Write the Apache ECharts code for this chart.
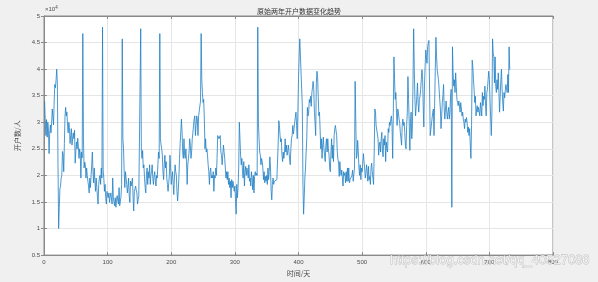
<!DOCTYPE html>
<html><head><meta charset="utf-8">
<script src="https://cdn.jsdelivr.net/npm/echarts@6/dist/echarts.min.js"></script>
<style>html,body{margin:0;padding:0;background:#f0f0f0}#c{width:598px;height:282px}</style>
</head><body><div id="c"></div>
<script>
// chart texts
const titleText = '原始两年开户数据变化趋势';
const xName = '时间/天';
const yName = '开户数/人';
const watermark = 'https://blog.csdn.net/qq_40527086';
// tick labels
const xTicks = [0, 100, 200, 300, 400, 500, 600, 700, 800];
const yTicks = [0.5, 1, 1.5, 2, 2.5, 3, 3.5, 4, 4.5, 5];
// daily account openings, in units of 10^4, day 1 .. 732
const openings = [
3.40,3.00,2.75,3.05,2.72,3.00,2.85,2.41,2.80,2.95,
2.80,3.00,3.25,3.10,2.95,3.40,3.71,3.65,3.80,4.00,
3.74,2.20,1.00,1.40,1.75,1.80,1.95,2.00,2.45,2.40,
2.07,2.60,3.10,3.28,3.12,3.19,2.95,2.80,3.00,2.90,
2.60,2.75,2.88,2.57,2.70,2.80,2.69,2.85,2.23,2.45,
2.63,2.50,2.70,2.55,2.32,2.50,2.40,1.95,2.44,2.33,
4.67,2.70,2.14,2.25,2.20,1.95,2.14,2.00,1.89,1.80,
1.67,1.95,1.77,2.00,2.20,2.44,2.07,1.86,2.14,1.90,
1.70,1.95,1.77,1.60,1.46,1.83,1.95,2.00,1.83,2.14,
1.95,4.79,2.10,1.95,1.70,1.83,1.58,1.46,1.70,1.62,
1.58,1.67,1.49,1.60,1.67,1.64,1.46,1.95,1.58,1.50,
1.43,1.58,1.40,1.55,1.62,1.52,1.46,1.77,1.43,1.40,
1.60,1.83,4.57,2.69,2.50,2.10,1.77,2.07,1.95,1.83,
1.67,1.80,1.95,1.60,1.49,1.89,1.80,1.77,1.95,1.60,
1.33,1.70,1.75,1.80,1.72,1.67,1.46,1.55,1.61,1.58,
1.61,4.76,2.47,2.32,2.47,2.14,2.20,1.95,1.77,1.67,
2.00,2.14,1.83,2.07,1.95,2.20,1.83,2.00,2.07,2.20,
1.95,1.83,1.99,2.07,1.90,1.80,2.00,1.95,2.20,2.44,
2.32,4.67,2.69,2.57,2.50,2.38,2.07,1.92,2.20,2.38,
2.14,2.26,1.95,1.83,1.70,1.85,2.00,2.38,2.14,1.83,
1.95,2.07,1.83,1.64,1.95,2.20,2.07,2.00,1.70,1.52,
1.70,1.95,2.32,2.60,2.82,3.06,2.82,2.44,2.32,2.69,
2.38,2.32,2.50,2.26,1.83,2.20,2.32,2.44,2.69,2.57,
2.32,2.44,2.69,2.80,2.94,3.06,3.12,2.75,2.94,3.12,
3.06,2.75,3.12,3.12,3.15,3.40,4.67,3.80,3.56,3.37,
3.43,3.06,2.50,2.69,2.44,2.50,2.38,2.20,2.07,1.83,
2.07,2.14,1.95,2.00,1.95,2.07,1.70,2.00,1.95,2.14,
2.00,2.32,2.75,2.78,2.69,2.72,2.75,2.44,2.38,2.20,
2.38,2.57,2.60,2.32,2.14,1.95,2.07,1.92,2.07,1.83,
1.95,1.77,1.89,1.58,1.92,1.77,1.89,1.80,1.70,1.80,
1.55,1.27,1.83,1.58,1.77,2.14,3.00,2.69,2.38,2.20,
2.32,2.07,1.95,2.26,1.80,2.07,2.17,2.00,2.14,2.05,
1.95,2.20,1.89,1.95,1.80,2.07,1.95,1.73,2.00,1.67,
1.98,2.07,2.00,2.04,2.00,4.79,3.00,2.69,2.44,2.38,
2.20,2.32,2.25,2.14,1.92,2.07,1.86,1.98,1.89,2.00,
1.83,2.14,1.92,2.07,2.35,2.14,1.70,1.54,1.83,1.95,
1.83,1.89,1.92,1.90,1.86,1.92,1.95,2.57,3.03,2.94,
2.75,2.63,2.69,2.38,2.26,2.44,2.32,2.44,2.69,2.44,
2.57,2.38,2.44,2.57,2.45,2.32,2.20,2.50,2.69,2.75,
2.94,2.78,2.88,3.00,3.00,3.19,2.94,2.69,3.19,3.80,
4.23,4.57,4.60,4.54,4.60,3.30,1.83,1.27,1.58,1.95,
2.14,2.44,2.69,3.28,3.12,3.19,3.43,3.37,3.49,3.30,
3.56,3.65,3.77,3.62,3.19,3.00,2.75,3.73,3.96,3.86,
3.49,3.12,3.19,2.85,2.50,2.69,2.32,2.57,2.72,2.50,
2.38,2.26,2.57,2.69,2.44,2.69,2.50,2.38,2.14,2.07,
2.44,2.69,2.32,2.57,2.26,2.75,2.88,2.94,2.97,2.75,
2.44,2.30,2.23,1.98,2.26,2.07,2.00,2.10,1.95,1.80,
2.07,2.00,2.04,1.86,2.07,1.89,2.14,1.89,2.14,1.86,
1.92,1.89,1.92,2.00,2.10,1.89,1.86,2.14,3.77,3.06,
2.32,2.38,2.66,2.44,2.14,2.00,2.20,1.92,2.14,2.07,
2.23,2.41,2.26,2.14,1.95,2.05,2.20,2.07,1.89,2.17,
1.92,1.98,1.83,2.14,2.23,2.07,1.95,1.83,2.44,3.25,
3.19,2.94,2.91,2.97,2.69,2.38,2.57,2.63,2.44,2.69,
2.81,2.44,2.35,2.69,2.57,2.75,2.26,2.63,2.50,2.44,
2.88,2.81,3.00,2.94,3.06,3.12,2.94,2.32,3.19,4.23,
3.80,3.43,3.56,3.19,2.94,3.25,3.19,3.06,3.00,2.81,
2.70,2.57,2.94,3.06,2.94,3.00,2.81,2.57,2.50,2.94,
3.19,3.86,3.43,3.00,2.47,3.00,3.19,2.69,2.88,3.80,
4.76,3.99,3.43,3.12,3.30,3.49,3.74,3.37,3.19,3.43,
3.49,3.62,3.80,3.99,3.86,3.31,2.91,3.68,4.05,4.36,
4.23,4.11,4.42,4.50,4.54,4.57,2.75,2.75,2.74,2.74,
3.19,3.25,2.75,2.74,3.99,4.60,4.23,3.99,3.96,3.80,
3.62,3.43,3.25,2.88,3.12,3.37,3.50,3.71,3.25,3.06,
3.25,3.40,3.19,3.06,3.19,3.28,3.06,3.19,3.49,3.62,
1.40,4.42,3.93,3.68,3.80,3.56,3.93,3.68,3.43,3.37,
3.31,3.40,3.31,3.19,3.37,3.25,3.12,3.19,3.06,3.00,
2.88,3.06,3.00,3.09,3.00,2.81,2.91,2.75,2.88,2.57,
2.32,2.94,4.17,4.05,3.80,3.62,3.37,3.49,3.12,3.25,
3.31,3.19,3.28,3.20,3.12,3.37,3.25,3.12,3.56,3.31,
3.49,3.43,3.68,3.31,3.12,3.56,3.62,3.80,3.96,3.80,
3.43,3.10,2.75,3.19,4.57,4.30,4.23,3.74,4.23,3.68,
3.56,3.80,3.62,3.93,3.56,3.19,3.49,3.80,4.00,3.62,
3.37,3.21,3.56,3.46,3.60,3.71,3.62,3.56,3.90,3.56,
4.42,3.99
];

const chart = echarts.init(document.getElementById('c'), null, {renderer: 'canvas'});
const seriesData = openings.map((v, i) => [i + 1, v]);
const axisColor = '#8a8a8a';
const labelColor = '#4d4d4d';
const font = 'Arial, "Liberation Sans", sans-serif';
const cjk = '"Noto Sans CJK SC", sans-serif';

const common = {
  type: 'value',
  axisLine: {show: true, lineStyle: {color: axisColor, width: 1}},
  axisTick: {show: true, inside: true, length: 3, lineStyle: {color: axisColor}},
};

chart.setOption({
  backgroundColor: '#f0f0f0',
  animation: false,
  title: {
    text: titleText, left: 'center', top: 3,
    textStyle: {fontSize: 7, fontWeight: 'normal', color: '#333', fontFamily: cjk}
  },
  grid: {left: 44, right: 45, top: 16, bottom: 23, show: true, backgroundColor: '#ffffff', borderColor: axisColor, borderWidth: 1},
  xAxis: [
    Object.assign({}, common, {
      min: xTicks[0], max: xTicks[xTicks.length - 1], interval: xTicks[1] - xTicks[0],
      position: 'bottom',
      axisLabel: {color: labelColor, fontSize: 6, margin: 4, fontFamily: font},
      splitLine: {show: true, lineStyle: {color: '#e6e6e6', width: 1}},
      name: xName, nameLocation: 'middle', nameGap: 13,
      nameTextStyle: {fontSize: 7, color: labelColor, fontFamily: cjk}
    }),
    Object.assign({}, common, {
      min: xTicks[0], max: xTicks[xTicks.length - 1], interval: xTicks[1] - xTicks[0],
      position: 'top', axisLabel: {show: false}, splitLine: {show: false}
    })
  ],
  yAxis: [
    Object.assign({}, common, {
      min: yTicks[0], max: yTicks[yTicks.length - 1], interval: yTicks[1] - yTicks[0],
      position: 'left',
      axisLabel: {color: labelColor, fontSize: 6, margin: 4, fontFamily: font, formatter: v => String(+v.toFixed(1))},
      splitLine: {show: true, lineStyle: {color: '#e6e6e6', width: 1}},
      name: yName, nameLocation: 'middle', nameGap: 16,
      nameTextStyle: {fontSize: 7, color: labelColor, fontFamily: cjk}
    }),
    Object.assign({}, common, {
      min: yTicks[0], max: yTicks[yTicks.length - 1], interval: yTicks[1] - yTicks[0],
      position: 'right', axisLabel: {show: false}, splitLine: {show: false}
    })
  ],
  series: [{
    type: 'line', xAxisIndex: 0, yAxisIndex: 0, data: seriesData,
    symbol: 'none', lineStyle: {color: '#1f7fc4', width: 0.8}, z: 3
  }],
  graphic: [
    {type: 'text', left: 45, top: 5, style: {
      text: '{a|×10}{b|4}', rich: {a: {fontSize: 6, fill: labelColor, fontFamily: font}, b: {fontSize: 4.5, fill: labelColor, verticalAlign: 'top', padding: [0,0,3,0]}}}},
    {type: 'text', right: 8, top: 254, z: 100, style: {
      text: watermark, fontSize: 13, fontFamily: font,
      fill: 'rgba(255,255,255,0.75)', stroke: 'rgba(140,140,140,0.55)', lineWidth: 0.8}}
  ]
});
</script>
</body></html>
